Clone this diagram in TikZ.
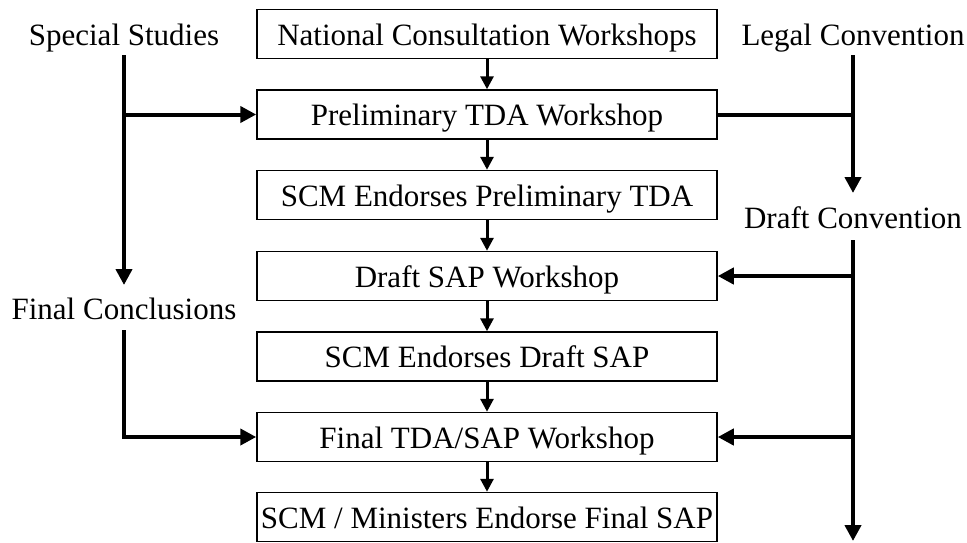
\documentclass[tikz,border=0pt]{standalone}
\usepackage{fontspec}
\setmainfont{Liberation Serif}
\usetikzlibrary{arrows.meta}
\begin{document}
\begin{tikzpicture}[x=1pt,y=-1pt,
  box/.style={draw, line width=1.5pt, minimum width=460pt, minimum height=49pt, inner sep=0pt,
    text height=22pt, text depth=0pt, font=\fontsize{31}{36}\selectfont},
  lbl/.style={inner sep=0pt, anchor=base, font=\fontsize{31}{36}\selectfont},
  flow/.style={line width=3pt, -{Triangle[length=13pt,width=13pt]}},
  feed/.style={line width=4pt, -{Triangle[length=16pt,width=16pt]}},
  plainline/.style={line width=4pt}]
\useasboundingbox (0,0) rectangle (967,542);
% boxes
\node[box] (b1) at (487,34)    {National Consultation Workshops};
\node[box] (b2) at (487,114.5) {Preliminary TDA Workshop};
\node[box] (b3) at (487,195)   {SCM Endorses Preliminary TDA};
\node[box] (b4) at (487,276)   {Draft SAP Workshop};
\node[box] (b5) at (487,356.5) {SCM Endorses Draft SAP};
\node[box] (b6) at (487,437)   {Final TDA/SAP Workshop};
\node[box] (b7) at (487,517)   {SCM / Ministers Endorse Final SAP};
% side labels
\node[lbl] (ss) at (124,45)  {Special Studies};
\node[lbl] (fc) at (124,319) {Final Conclusions};
\node[lbl] (lc) at (853,45)  {Legal Convention};
\node[lbl] (dc) at (853,228) {Draft Convention};
% vertical flow
\draw[flow] (b1.south) -- (b2.north);
\draw[flow] (b2.south) -- (b3.north);
\draw[flow] (b3.south) -- (b4.north);
\draw[flow] (b4.south) -- (b5.north);
\draw[flow] (b5.south) -- (b6.north);
\draw[flow] (b6.south) -- (b7.north);
% left side
\coordinate (ssA) at (124,55);
\coordinate (ssB) at (124,114.5);
\coordinate (ssC) at (124,285);
\draw[feed] (ssA) -- (ssC);
\draw[feed] (ssB) -- (b2.west);
\coordinate (fcA) at (124,330);
\draw[feed] (fcA) |- (b6.west);
% right side
\coordinate (lcA) at (853,55);
\coordinate (lcB) at (853,114.5);
\coordinate (lcC) at (853,193);
\draw[feed] (lcA) -- (lcC);
\draw[plainline] (b2.east) -- (lcB);
\coordinate (dcA) at (853,240);
\coordinate (dcB) at (853,276);
\coordinate (dcC) at (853,437);
\coordinate (dcD) at (853,541);
\draw[feed] (dcA) -- (dcD);
\draw[feed] (dcB) -- (b4.east);
\draw[feed] (dcC) -- (b6.east);
\end{tikzpicture}
\end{document}
